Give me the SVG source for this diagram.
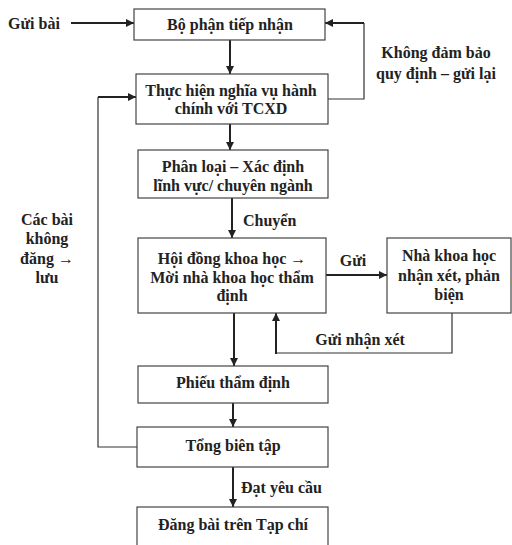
<svg xmlns="http://www.w3.org/2000/svg" width="512" height="545" viewBox="0 0 512 545">
<style>
.box{fill:#fff;stroke:#444;stroke-width:1.2}
.t{font-size:16px;font-weight:bold;fill:#222;text-anchor:middle;dominant-baseline:central}
.a{fill:none;stroke:#222;stroke-width:2}
.l{fill:none;stroke:#333;stroke-width:1.2}
</style>
<defs>
<marker id="ah" viewBox="0 0 10 10" refX="10" refY="5" markerWidth="9" markerHeight="8" markerUnits="userSpaceOnUse" orient="auto">
<path d="M0,0 L10,5 L0,10 z" fill="#222"/>
</marker>
</defs>
<rect width="512" height="545" fill="#fff"/>
<g font-family="'Liberation Serif', 'DejaVu Serif', serif">
<g id="connectors">
<line class="a" x1="71" y1="23" x2="134" y2="23" marker-end="url(#ah)"/>
<line class="a" x1="230" y1="39" x2="230" y2="74" marker-end="url(#ah)"/>
<polyline class="l" points="328,99 364,99 364,23"/>
<line class="a" x1="364" y1="23" x2="325" y2="23" marker-end="url(#ah)"/>
<line class="a" x1="230" y1="124" x2="230" y2="150" marker-end="url(#ah)"/>
<line class="a" x1="232" y1="198" x2="232" y2="238" marker-end="url(#ah)"/>
<line class="a" x1="326" y1="275" x2="387" y2="275" marker-end="url(#ah)"/>
<polyline class="l" points="452,313 452,353 276,353"/>
<line class="a" x1="276" y1="354" x2="276" y2="313" marker-end="url(#ah)"/>
<line class="a" x1="234" y1="313" x2="234" y2="366" marker-end="url(#ah)"/>
<line class="a" x1="233" y1="403" x2="233" y2="427" marker-end="url(#ah)"/>
<polyline class="l" points="137,447 98,447 98,97"/>
<line class="a" x1="98" y1="97" x2="136" y2="97" marker-end="url(#ah)"/>
<line class="a" x1="233" y1="467" x2="233" y2="507" marker-end="url(#ah)"/>
<text class="t" x="8" y="23" style="text-anchor:start">Gửi bài</text>
<text class="t" x="436" y="52">Không đảm bảo</text>
<text class="t" x="436" y="73">quy định – gửi lại</text>
<text class="t" x="243" y="220" style="text-anchor:start">Chuyển</text>
<text class="t" x="353" y="260">Gửi</text>
<text class="t" x="360" y="339">Gửi nhận xét</text>
<text class="t" x="47" y="219">Các bài</text>
<text class="t" x="47" y="238">không</text>
<text class="t" x="47" y="258">đăng →</text>
<text class="t" x="47" y="277">lưu</text>
<text class="t" x="241" y="487" style="text-anchor:start">Đạt yêu cầu</text>
</g>
<g id="n1"><rect class="box" x="134" y="9" width="191" height="31"/><text class="t" x="230" y="24">Bộ phận tiếp nhận</text></g>
<g id="n2"><rect class="box" x="136" y="74" width="192" height="50"/><text class="t" x="231" y="90">Thực hiện nghĩa vụ hành</text><text class="t" x="231" y="108">chính với TCXD</text></g>
<g id="n3"><rect class="box" x="138" y="150" width="190" height="48"/><text class="t" x="233" y="166">Phân loại – Xác định</text><text class="t" x="233" y="185">lĩnh vực/ chuyên ngành</text></g>
<g id="n4"><rect class="box" x="138" y="238" width="188" height="75"/><text class="t" x="232" y="258">Hội đồng khoa học →</text><text class="t" x="232" y="277">Mời nhà khoa học thẩm</text><text class="t" x="232" y="295">định</text></g>
<g id="n5"><rect class="box" x="387" y="238" width="124" height="75"/><text class="t" x="449" y="255">Nhà khoa học</text><text class="t" x="449" y="275">nhận xét, phản</text><text class="t" x="449" y="294">biện</text></g>
<g id="n6"><rect class="box" x="138" y="366" width="190" height="37"/><text class="t" x="233" y="382">Phiếu thẩm định</text></g>
<g id="n7"><rect class="box" x="137" y="427" width="191" height="40"/><text class="t" x="233" y="445">Tổng biên tập</text></g>
<g id="n8"><rect class="box" x="137" y="507" width="191" height="45"/><text class="t" x="233" y="524">Đăng bài trên Tạp chí</text></g>
</g>
</svg>
